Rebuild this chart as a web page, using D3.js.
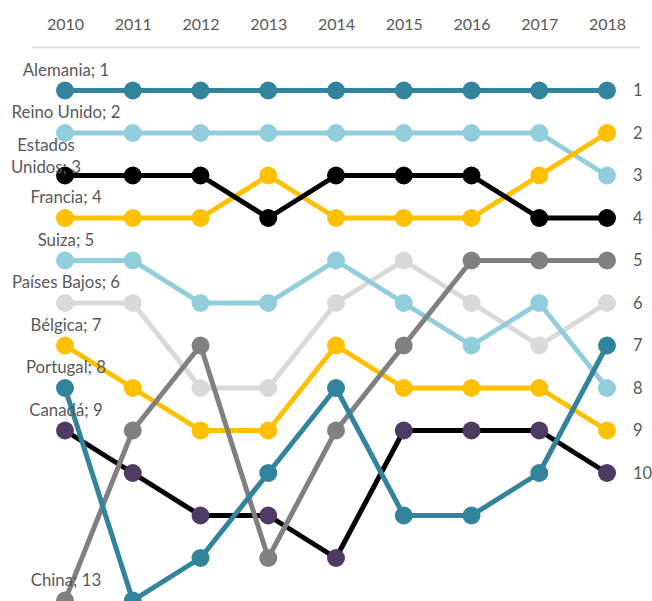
<!DOCTYPE html>
<html>
<head>
<meta charset="utf-8">
<script src="https://cdn.jsdelivr.net/npm/d3@7"></script>
<style>
  html, body { margin: 0; padding: 0; background: #fff; }
  svg { display: block; }
  text { font-family: Lato, "Open Sans", sans-serif; fill: #595959; }
</style>
</head>
<body>
<svg id="chart" width="652" height="601"></svg>
<script>
// ---- Data ----
const years = ["2010", "2011", "2012", "2013", "2014", "2015", "2016", "2017", "2018"];
const rankTicks = [1, 2, 3, 4, 5, 6, 7, 8, 9, 10];

const alemania     = [1, 1, 1, 1, 1, 1, 1, 1, 1];
const reinoUnido   = [2, 2, 2, 2, 2, 2, 2, 2, 3];
const estadosUnidos= [3, 3, 3, 4, 3, 3, 3, 4, 4];
const francia      = [4, 4, 4, 3, 4, 4, 4, 3, 2];
const suiza        = [5, 5, 6, 6, 5, 6, 7, 6, 8];
const paisesBajos  = [6, 6, 8, 8, 6, 5, 6, 7, 6];
const belgica      = [7, 8, 9, 9, 7, 8, 8, 8, 9];
const portugal     = [8, 13, 12, 10, 8, 11, 11, 10, 7];
const canada       = [9, 10, 11, 11, 12, 9, 9, 9, 10];
const china        = [13, 9, 7, 12, 9, 7, 5, 5, 5];

// drawing order (later drawn on top)
const series = [
  { name: "Alemania",        values: alemania,      line: "#31849B", marker: "#31849B" },
  { name: "Reino Unido",     values: reinoUnido,    line: "#92CDDC", marker: "#92CDDC" },
  { name: "Francia",         values: francia,       line: "#FFC000", marker: "#FFC000" },
  { name: "Estados Unidos",  values: estadosUnidos, line: "#000000", marker: "#000000" },
  { name: "Países Bajos",    values: paisesBajos,   line: "#D9D9D9", marker: "#D9D9D9" },
  { name: "Suiza",           values: suiza,         line: "#92CDDC", marker: "#92CDDC" },
  { name: "Bélgica",         values: belgica,       line: "#FFC000", marker: "#FFC000" },
  { name: "Canadá",          values: canada,        line: "#000000", marker: "#4E3B63" },
  { name: "China",           values: china,         line: "#808080", marker: "#808080" },
  { name: "Portugal",        values: portugal,      line: "#31849B", marker: "#31849B" }
];

// ---- Scales ----
const svg = d3.select("#chart");
const x = d3.scalePoint().domain(years).range([65, 607]);
const y = d3.scaleLinear().domain([1, 13]).range([90.5, 600.5]);

// ---- Top axis (years) ----
svg.append("line")
  .attr("x1", 32).attr("x2", 640)
  .attr("y1", 47.5).attr("y2", 47.5)
  .attr("stroke", "#D9D9D9").attr("stroke-width", 1.5);

const topAxis = svg.append("g")
  .attr("transform", "translate(0,47)")
  .call(d3.axisTop(x).tickSize(0).tickPadding(17));
topAxis.select(".domain").remove();
topAxis.selectAll("text")
  .attr("font-size", 16).attr("font-family", null).style("fill", "#595959");

// ---- Right axis (ranks) ----
const rightAxis = svg.append("g")
  .attr("transform", "translate(625,0)")
  .call(d3.axisRight(y).tickValues(rankTicks).tickSize(0).tickPadding(8).tickFormat(d3.format("d")));
rightAxis.select(".domain").remove();
rightAxis.selectAll("text")
  .attr("font-size", 16.5).attr("font-family", null).style("fill", "#595959");

// ---- Lines & markers ----
const lineGen = d3.line()
  .x((d, i) => x(years[i]))
  .y(d => y(d));

series.forEach(s => {
  const g = svg.append("g");
  g.append("path")
    .datum(s.values)
    .attr("d", lineGen)
    .attr("fill", "none")
    .attr("stroke", s.line)
    .attr("stroke-width", 5)
    .attr("stroke-linejoin", "round");
  g.selectAll("circle")
    .data(s.values)
    .join("circle")
    .attr("cx", (d, i) => x(years[i]))
    .attr("cy", d => y(d))
    .attr("r", 9)
    .attr("fill", s.marker);
});

// ---- Start labels ----
series.forEach(s => {
  const v = s.values[0];
  const label = `${s.name}; ${v}`;
  const t = svg.append("text")
    .attr("font-size", 16.8)
    .attr("text-anchor", "middle");
  if (s.name === "Estados Unidos") {
    const parts = ["Estados", "Unidos; " + v];
    const cx = x(years[0]) - 19;
    const base = y(v) - 3;
    parts.forEach((p, i) => {
      t.append("tspan")
        .attr("x", cx)
        .attr("y", base - (parts.length - 1 - i) * 22)
        .text(p);
    });
  } else {
    t.attr("x", x(years[0]) + 1)
      .attr("y", y(v) - 15)
      .text(label);
  }
});
</script>
</body>
</html>
